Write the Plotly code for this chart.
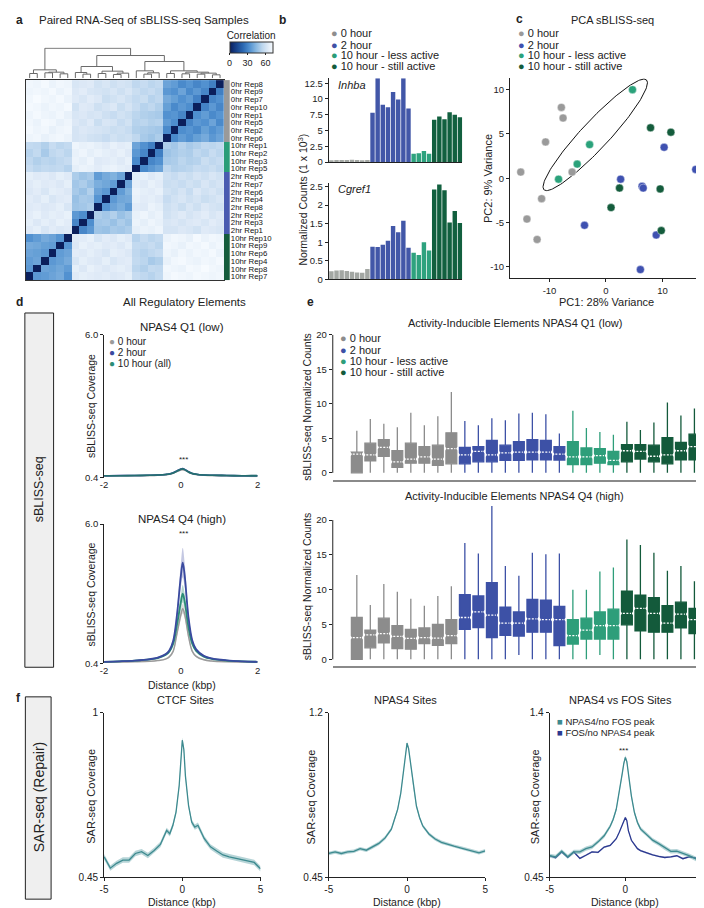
import numpy as np
import plotly.graph_objects as go

W, H = 704, 908
FONT = "Liberation Sans, Arial, Helvetica, sans-serif"
INK = "#222222"

GRAY = "#8e8e8e"
BLUE = "#3f51a5"
LGREEN = "#2a9d78"
DGREEN = "#145c3c"

# ------------------------------------------------------------------ data
# (a) correlation heatmap (rows top->bottom; lower triangle, sample order)
heat_labels = ["0hr Rep8", "0hr Rep9", "0hr Rep7", "0hr Rep10", "0hr Rep1", "0hr Rep5", "0hr Rep2", "0hr Rep6",
               "10hr Rep1", "10hr Rep2", "10hr Rep3", "10hr Rep5",
               "2hr Rep5", "2hr Rep7", "2hr Rep6", "2hr Rep4", "2hr Rep8", "2hr Rep2", "2hr Rep3", "2hr Rep1",
               "10hr Rep10", "10hr Rep9", "10hr Rep6", "10hr Rep4", "10hr Rep8", "10hr Rep7"]
heat_groups = [0, 0, 0, 0, 0, 0, 0, 0, 1, 1, 1, 1, 2, 2, 2, 2, 2, 2, 2, 2, 3, 3, 3, 3, 3, 3]
heat_lower = [
    [0],
    [28, 0],
    [33, 30, 0],
    [30, 35, 29, 0],
    [34, 31, 36, 32, 0],
    [31, 38, 33, 35, 30, 0],
    [36, 33, 37, 31, 34, 32, 0],
    [38, 35, 40, 37, 33, 36, 31, 0],
    [56, 54, 55, 52, 50, 53, 49, 51, 0],
    [54, 57, 53, 55, 51, 52, 50, 48, 28, 0],
    [57, 55, 58, 53, 52, 54, 51, 50, 33, 30, 0],
    [55, 58, 56, 57, 54, 53, 52, 55, 38, 35, 31, 0],
    [60, 62, 59, 61, 58, 60, 57, 59, 66, 64, 67, 65, 0],
    [61, 59, 62, 58, 60, 57, 59, 58, 65, 67, 64, 66, 38, 0],
    [59, 62, 60, 63, 57, 61, 58, 60, 67, 65, 66, 68, 42, 36, 0],
    [62, 60, 58, 61, 59, 62, 60, 57, 64, 66, 65, 67, 40, 39, 35, 0],
    [60, 61, 63, 59, 62, 58, 61, 59, 66, 68, 64, 65, 36, 41, 38, 34, 0],
    [64, 62, 65, 63, 61, 64, 62, 60, 68, 66, 69, 67, 50, 47, 52, 49, 51, 0],
    [63, 65, 62, 64, 63, 61, 63, 62, 67, 69, 66, 68, 48, 51, 47, 50, 49, 32, 0],
    [62, 63, 64, 60, 62, 63, 61, 61, 69, 67, 68, 66, 51, 49, 50, 47, 48, 35, 30, 0],
    [69, 70, 68, 71, 67, 69, 70, 68, 56, 54, 57, 53, 64, 66, 63, 65, 62, 67, 65, 64, 0],
    [70, 68, 71, 69, 70, 67, 69, 70, 54, 57, 55, 56, 66, 63, 65, 64, 66, 65, 67, 63, 34, 0],
    [68, 71, 69, 70, 68, 70, 67, 69, 57, 55, 53, 55, 63, 65, 66, 62, 64, 66, 64, 65, 38, 36, 0],
    [71, 69, 70, 68, 69, 71, 70, 67, 52, 50, 54, 56, 65, 64, 62, 66, 63, 64, 66, 62, 40, 37, 35, 0],
    [69, 70, 72, 70, 71, 68, 69, 70, 55, 56, 52, 54, 64, 66, 65, 63, 65, 67, 63, 66, 36, 39, 37, 38, 0],
    [70, 69, 70, 71, 69, 70, 71, 69, 56, 53, 55, 57, 66, 64, 63, 65, 64, 65, 66, 64, 33, 40, 38, 36, 35, 0],
]
# dendrogram merges over column positions (leaf a, leaf/node b, height)
dendro_merges = [
    (0, 1, 14), (2, 3, 16), (4, 5, 13), (27, 28, 18), (26, 29, 25),
    (7, 8, 12), (6, 31, 17), (9, 10, 14), (11, 12, 11), (34, 13, 15), (33, 35, 21), (32, 36, 35),
    (15, 16, 12), (38, 17, 16), (14, 39, 22),
    (18, 19, 14), (20, 21, 13), (22, 23, 12), (24, 25, 10), (43, 44, 15), (42, 45, 18), (41, 46, 22),
    (40, 47, 50), (37, 48, 68), (30, 49, 90),
]

group_names = ["0 hour", "2 hour", "10 hour - less active", "10 hour - still active"]

# (b) normalized counts (1 x 10^3)
inhba_0h = [0.28, 0.30, 0.30, 0.30, 0.35, 0.30, 0.28, 0.30]
inhba_2h = [7.8, 13.3, 9.1, 8.7, 11.1, 9.9, 13.3, 8.5]
inhba_10l = [1.3, 1.4, 1.75, 1.3]
inhba_10s = [6.7, 7.2, 6.8, 7.9, 7.5, 7.1]
cgref1_0h = [0.22, 0.24, 0.25, 0.23, 0.21, 0.19, 0.18, 0.28]
cgref1_2h = [0.88, 0.87, 0.93, 1.04, 1.44, 1.27, 1.58, 0.85]
cgref1_10l = [0.72, 0.66, 1.0, 0.78]
cgref1_10s = [2.42, 2.55, 2.4, 1.53, 1.84, 1.52]

# (c) PCA
pca_0h_x = [-7.9, -7.6, -10.7, -15.1, -6.0, -11.4, -14.0, -12.2]
pca_0h_y = [8.0, 6.8, 4.1, 0.7, 0.7, -2.3, -4.6, -6.9]
pca_2h_x = [15.9, 10.3, 2.6, 6.4, 6.6, -3.8, 8.9, 6.1]
pca_2h_y = [1.0, 3.5, -0.1, -0.9, -1.1, -5.3, -6.4, -10.3]
pca_10l_x = [4.7, -2.9, -5.1, -8.4]
pca_10l_y = [10.0, 3.8, 1.6, -0.1]
pca_10s_x = [7.9, 11.5, 2.4, 9.6, 0.9, 9.8]
pca_10s_y = [5.7, 5.2, -1.1, -1.2, -3.3, -5.9]
ellipse_center = (-1.9, 4.9)
ellipse_major = (9.07, 6.2)
ellipse_minor = (-1.8, 1.06)

# (d) sBLISS-seq coverage profiles
d_x = [-2, -1.6, -1.2, -0.8, -0.6, -0.4, -0.3, -0.2, -0.1, 0, 0.05, 0.1, 0.2, 0.3, 0.4, 0.6, 0.8, 1.2, 1.6, 2]
q1_gray = [0.47, 0.48, 0.48, 0.49, 0.50, 0.52, 0.54, 0.58, 0.65, 0.71, 0.72, 0.70, 0.62, 0.56, 0.53, 0.50, 0.49, 0.48, 0.47, 0.47]
q1_blue = [0.48, 0.49, 0.49, 0.50, 0.51, 0.53, 0.55, 0.60, 0.67, 0.74, 0.76, 0.73, 0.64, 0.57, 0.54, 0.51, 0.50, 0.49, 0.48, 0.48]
q1_green = [0.48, 0.48, 0.49, 0.50, 0.51, 0.53, 0.55, 0.59, 0.66, 0.73, 0.75, 0.72, 0.63, 0.57, 0.54, 0.51, 0.50, 0.49, 0.48, 0.48]
q1_sem = 0.03
q4_gray = [0.44, 0.45, 0.46, 0.48, 0.51, 0.57, 0.66, 0.88, 1.60, 2.35, 2.60, 2.38, 1.50, 0.88, 0.68, 0.54, 0.49, 0.46, 0.45, 0.44]
q4_blue = [0.46, 0.48, 0.51, 0.57, 0.63, 0.76, 0.92, 1.30, 2.35, 3.90, 4.45, 3.95, 2.25, 1.32, 0.96, 0.70, 0.60, 0.52, 0.48, 0.46]
q4_green = [0.46, 0.48, 0.51, 0.56, 0.61, 0.73, 0.87, 1.18, 1.95, 2.85, 3.20, 2.90, 1.85, 1.18, 0.90, 0.67, 0.58, 0.51, 0.48, 0.46]
q4_gray_sem = [0.01, 0.01, 0.01, 0.02, 0.02, 0.03, 0.04, 0.05, 0.12, 0.18, 0.2, 0.18, 0.12, 0.05, 0.04, 0.02, 0.02, 0.01, 0.01, 0.01]
q4_blue_sem = [0.02, 0.02, 0.02, 0.03, 0.03, 0.04, 0.05, 0.08, 0.25, 0.5, 0.6, 0.5, 0.25, 0.08, 0.05, 0.03, 0.03, 0.02, 0.02, 0.02]
q4_green_sem = [0.02, 0.02, 0.02, 0.03, 0.03, 0.04, 0.05, 0.06, 0.15, 0.3, 0.35, 0.3, 0.15, 0.06, 0.05, 0.03, 0.03, 0.02, 0.02, 0.02]

# (e) box statistics, NPAS4 Q1 (low)
e1_0h_lo = [0, 0, 0, 0, 0, 0, 0, 0]
e1_0h_q1 = [0.0, 1.75, 2.4, 0.8, 1.4, 1.4, 1.1, 1.3]
e1_0h_med = [2.7, 2.6, 3.7, 1.6, 2.0, 2.3, 2.0, 3.5]
e1_0h_q3 = [3.0, 4.3, 4.8, 3.2, 4.3, 3.8, 4.0, 5.8]
e1_0h_hi = [6.1, 7.8, 7.1, 6.6, 8.7, 6.9, 8.2, 11.7]
e1_2h_lo = [0, 0, 0, 0, 0, 0, 0, 0]
e1_2h_q1 = [1.3, 1.6, 1.6, 1.8, 1.8, 1.9, 1.9, 1.85]
e1_2h_med = [2.6, 3.1, 2.6, 2.9, 3.0, 3.0, 3.0, 2.7]
e1_2h_q3 = [3.7, 3.8, 4.7, 4.0, 4.5, 4.8, 4.7, 3.8]
e1_2h_hi = [7.5, 6.9, 7.9, 7.6, 8.6, 8.7, 8.5, 5.7]
e1_10l_lo = [0, 0, 0, 0]
e1_10l_q1 = [1.2, 1.2, 1.4, 1.2]
e1_10l_med = [2.3, 2.3, 2.5, 1.8]
e1_10l_q3 = [4.5, 3.6, 3.5, 3.1]
e1_10l_hi = [9.0, 6.5, 5.9, 5.5]
e1_10s_lo = [0, 0, 0, 0, 0, 0]
e1_10s_q1 = [1.6, 2.0, 1.6, 1.3, 1.9, 1.9]
e1_10s_med = [3.2, 3.1, 2.4, 2.6, 3.2, 3.8]
e1_10s_q3 = [4.1, 4.1, 4.0, 5.1, 4.4, 5.6]
e1_10s_hi = [7.4, 6.2, 7.3, 10.2, 8.3, 9.3]
# (e) box statistics, NPAS4 Q4 (high)
e4_0h_lo = [0, 0, 0, 0, 0, 0, 0, 0]
e4_0h_q1 = [0.0, 1.65, 2.35, 1.55, 1.45, 2.25, 2.0, 2.25]
e4_0h_med = [3.1, 3.5, 3.7, 3.3, 3.0, 3.1, 3.05, 3.4]
e4_0h_q3 = [6.0, 4.2, 5.9, 4.85, 4.3, 4.5, 5.0, 5.7]
e4_0h_hi = [12.1, 7.8, 10.8, 9.7, 8.7, 7.7, 9.1, 10.5]
e4_2h_lo = [0, 0, 0, 0, 0.6, 0, 0, 0]
e4_2h_q1 = [4.3, 4.55, 3.1, 3.45, 3.35, 3.9, 3.9, 1.95]
e4_2h_med = [6.0, 6.8, 6.35, 5.2, 5.2, 5.8, 5.7, 5.7]
e4_2h_q3 = [9.3, 9.1, 11.0, 7.5, 6.8, 8.6, 8.5, 7.6]
e4_2h_hi = [16.7, 15.2, 22.0, 13.4, 12.0, 15.3, 15.1, 15.2]
e4_10l_lo = [0, 0, 0.6, 0]
e4_10l_q1 = [2.2, 2.9, 2.9, 2.9]
e4_10l_med = [3.4, 4.2, 4.85, 4.85]
e4_10l_q3 = [5.7, 5.9, 6.8, 7.2]
e4_10l_hi = [10.0, 10.0, 12.6, 13.2]
e4_10s_lo = [0, 0, 0, 0, 0, 0]
e4_10s_q1 = [4.95, 4.1, 3.9, 3.9, 4.5, 3.7]
e4_10s_med = [6.6, 7.3, 6.6, 5.2, 6.5, 5.7]
e4_10s_q3 = [9.8, 9.2, 8.85, 7.7, 8.2, 7.3]
e4_10s_hi = [17.2, 16.4, 15.3, 12.7, 13.4, 11.2]

# (f) SAR-seq coverage profiles
f_x = [-5, -4.6, -4.2, -3.8, -3.4, -3.0, -2.6, -2.2, -1.8, -1.4, -1.0, -0.8, -0.6, -0.4, -0.2, -0.1, 0,
       0.1, 0.2, 0.4, 0.6, 0.8, 1.0, 1.4, 1.8, 2.2, 2.6, 3.0, 3.4, 3.8, 4.2, 4.6, 5.0]
ctcf_cov = [0.519, 0.481, 0.497, 0.508, 0.508, 0.530, 0.536, 0.523, 0.540, 0.560, 0.607, 0.596, 0.624, 0.668,
            0.756, 0.822, 0.908, 0.877, 0.789, 0.690, 0.635, 0.618, 0.624, 0.580, 0.552, 0.538, 0.525, 0.519,
            0.514, 0.508, 0.505, 0.500, 0.479]
npas4_cov = [0.559, 0.566, 0.559, 0.566, 0.569, 0.581, 0.574, 0.589, 0.605, 0.630, 0.670, 0.715, 0.760, 0.834,
             0.954, 1.013, 1.061, 1.036, 0.983, 0.864, 0.775, 0.723, 0.685, 0.648, 0.625, 0.610, 0.600, 0.592,
             0.585, 0.578, 0.570, 0.562, 0.571]
npas4_nofos_cov = [0.575, 0.569, 0.601, 0.569, 0.597, 0.597, 0.616, 0.626, 0.655, 0.690, 0.745, 0.786, 0.843,
                   0.938, 1.051, 1.108, 1.142, 1.117, 1.051, 0.919, 0.824, 0.767, 0.730, 0.700, 0.665, 0.645,
                   0.620, 0.600, 0.602, 0.590, 0.576, 0.560, 0.541]
fos_nonpas4_cov = [0.575, 0.563, 0.597, 0.565, 0.597, 0.560, 0.578, 0.597, 0.595, 0.625, 0.635, 0.654, 0.673,
                   0.711, 0.749, 0.777, 0.796, 0.777, 0.720, 0.664, 0.639, 0.616, 0.605, 0.592, 0.580, 0.572,
                   0.565, 0.568, 0.575, 0.558, 0.568, 0.563, 0.560]
ctcf_sem = 0.009
npas4_sem = 0.008
npas4_nofos_sem = 0.012
fos_nonpas4_sem = 0.005

# ------------------------------------------------------------------ helpers
def X(p): return p / W
def Y(p): return 1 - p / H
def xd(a, b): return [a / W, b / W]
def yd(top, bottom): return [1 - bottom / H, 1 - top / H]

traces = []
layout = dict(width=W, height=H, autosize=False, margin=dict(l=0, r=0, t=0, b=0),
              paper_bgcolor="white", plot_bgcolor="rgba(0,0,0,0)",
              font=dict(family=FONT, size=10, color=INK), showlegend=False,
              hovermode=False, barmode="overlay", boxmode="overlay",
              annotations=[], shapes=[])

def axpair(n, xdom, ydom, xa=None, ya=None):
    s = "" if n == 1 else str(n)
    base = dict(showgrid=False, zeroline=False, showline=False, ticks="", showticklabels=False,
                linecolor=INK, linewidth=1, tickcolor=INK, ticklen=3, tickwidth=1,
                tickfont=dict(size=9.5, color=INK, family=FONT), fixedrange=True)
    xx = dict(base); xx.update(xa or {}); xx.update(domain=xdom, anchor="y" + s)
    yy = dict(base); yy.update(ya or {}); yy.update(domain=ydom, anchor="x" + s)
    layout["xaxis" + s] = xx
    layout["yaxis" + s] = yy
    return "x" + s, "y" + s

def text(x, y, s, size=10, xanchor="center", yanchor="middle", angle=0, color=INK):
    layout["annotations"].append(dict(x=X(x), y=Y(y), xref="paper", yref="paper", text=s, showarrow=False,
                                      xanchor=xanchor, yanchor=yanchor, textangle=angle,
                                      font=dict(size=size, color=color, family=FONT)))

def legend(x, ys, labels, colors, size=10.5, symbol="●"):
    for y, lab, col in zip(ys, labels, colors):
        text(x, y, f'<span style="color:{col}">{symbol}</span> {lab}', size=size, xanchor="left")

def profile(ax, x, y, sem, line_color, fill_color, width=1.6, shape="linear"):
    sem_l = sem if isinstance(sem, list) else [sem] * len(y)
    up = [v + s for v, s in zip(y, sem_l)]
    lo = [v - s for v, s in zip(y, sem_l)]
    traces.append(go.Scatter(x=x + x[::-1], y=up + lo[::-1], fill="toself", fillcolor=fill_color,
                             line=dict(width=0, shape=shape), mode="lines", xaxis=ax[0], yaxis=ax[1],
                             hoverinfo="skip"))
    traces.append(go.Scatter(x=x, y=y, mode="lines", line=dict(color=line_color, width=width, shape=shape),
                             xaxis=ax[0], yaxis=ax[1]))

GROUP_COLORS = [GRAY, BLUE, LGREEN, DGREEN]

# ------------------------------------------------------------------ (a)
n = len(heat_labels)
D = [[0] * n for _ in range(n)]
for i, row in enumerate(heat_lower):
    for j, v in enumerate(row):
        D[i][j] = v
        D[j][i] = v
zdisp = [[D[i][n - 1 - j] for j in range(n)] for i in range(n)]
blues = [[0, "#0b1f5c"], [0.1, "#14387f"], [0.3, "#2a67b1"], [0.45, "#4f8fcf"], [0.6, "#86b6e0"],
         [0.75, "#bcd6ee"], [0.88, "#dde9f6"], [1, "#f7fbff"]]
ax1 = axpair(1, xd(14, 214), yd(67, 270),
             dict(range=[-0.5, n - 0.5], showline=True, mirror=True, linecolor="#333"),
             dict(range=[n - 0.5, -0.5], showline=True, mirror=True, linecolor="#333"))
traces.append(go.Heatmap(z=zdisp, x=list(range(n)), y=list(range(n)), colorscale=blues, zmin=0, zmax=72,
                         xaxis=ax1[0], yaxis=ax1[1],
                         colorbar=dict(orientation="h", x=X(241.5), xanchor="center", y=Y(17), yanchor="top",
                                       len=43, lenmode="pixels", thickness=11, thicknessmode="pixels",
                                       outlinewidth=1, outlinecolor="#333", tickvals=[0, 30, 60],
                                       ticks="outside", ticklen=2, tickcolor=INK,
                                       tickfont=dict(size=9, color=INK, family=FONT),
                                       title=dict(text="Correlation", side="top",
                                                  font=dict(size=10, color=INK, family=FONT)),
                                       xpad=0, ypad=0)))

# dendrogram
ax2 = axpair(2, xd(14, 214), yd(34, 65), dict(range=[-0.5, n - 0.5]), dict(range=[0, 92]))
node_x = [float(k) for k in range(n)]
node_h = [0.0] * n
dxs, dys = [], []
for a, b, h in dendro_merges:
    xa_, xb_ = node_x[a], node_x[b]
    dxs += [xa_, xa_, xb_, xb_, None]
    dys += [node_h[a], h, h, node_h[b], None]
    node_x.append((xa_ + xb_) / 2)
    node_h.append(h)
traces.append(go.Scatter(x=dxs, y=dys, mode="lines", line=dict(color="#6a6a6a", width=1),
                         xaxis=ax2[0], yaxis=ax2[1]))

# group strip + row labels
ax3 = axpair(3, xd(214, 220), yd(67, 270), dict(range=[-0.5, 0.5]),
             dict(range=[n - 0.5, -0.5], side="right", showticklabels=True, tickvals=list(range(n)),
                  ticktext=heat_labels, ticklen=0, ticklabelstandoff=0,
                  tickfont=dict(size=7.8, color="#111111", family=FONT)))
strip_code = {0: 0, 1: 2, 2: 1, 3: 3}
strip_scale = [[0, "#9a9a9a"], [0.1667, "#9a9a9a"], [0.1667, "#4a5bb0"], [0.5, "#4a5bb0"],
               [0.5, LGREEN], [0.8333, LGREEN], [0.8333, DGREEN], [1, DGREEN]]
traces.append(go.Heatmap(z=[[strip_code[g]] for g in heat_groups], x=[0], y=list(range(n)),
                         colorscale=strip_scale, zmin=0, zmax=3, showscale=False,
                         xaxis=ax3[0], yaxis=ax3[1]))

text(2, 6, "<b>a</b>", size=12, xanchor="left")
text(133, 6, "Paired RNA-Seq of sBLISS-seq Samples", size=11.5)

# ------------------------------------------------------------------ (b)
b_groups_inhba = [inhba_0h, inhba_2h, inhba_10l, inhba_10s]
b_groups_cgref = [cgref1_0h, cgref1_2h, cgref1_10l, cgref1_10s]
yaxis_b = dict(showline=True, ticks="outside", showticklabels=True)
ax4 = axpair(4, xd(320, 455), yd(65, 150), dict(range=[-0.5, 25.5], showline=True),
             dict(yaxis_b, range=[0, 13.3], tickvals=[0, 2.5, 5, 7.5, 10, 12.5],
                  ticktext=["0", "2.5", "5", "7.5", "10", "12.5"]))
ax5 = axpair(5, xd(320, 455), yd(171, 269), dict(range=[-0.5, 25.5], showline=True),
             dict(yaxis_b, range=[0, 2.6], tickvals=[0, 0.5, 1, 1.5, 2, 2.5],
                  ticktext=["0", "0.5", "1", "1.5", "2", "2.5"]))
bar_colors = ["#a3a7a3", "#4257a8", "#2ea27e", "#12603f"]
for ax, groups in ((ax4, b_groups_inhba), (ax5, b_groups_cgref)):
    start = 0
    for vals, col in zip(groups, bar_colors):
        xs = list(range(start, start + len(vals)))
        traces.append(go.Bar(x=xs, y=vals, width=0.86, marker=dict(color=col, line=dict(width=0)),
                             xaxis=ax[0], yaxis=ax[1]))
        start += len(vals)
text(268, 6, "<b>b</b>", size=12, xanchor="left")
legend(320, [19, 31, 42, 53], group_names, GROUP_COLORS, size=11)
text(327, 72, "<i>Inhba</i>", size=11, xanchor="left")
text(327, 177, "<i>Cgref1</i>", size=11, xanchor="left")
text(293, 188, "Normalized Counts (1 x 10<sup>3</sup>)", size=10.5, angle=-90)

# ------------------------------------------------------------------ (c)
ax6 = axpair(6, xd(503, 698), yd(65, 268),
             dict(range=[-17, 17.2], showline=True, ticks="outside", showticklabels=True,
                  tickvals=[-10, 0, 10], ticktext=["-10", "0", "10"]),
             dict(range=[-11.3, 11.3], showline=True, ticks="outside", showticklabels=True,
                  tickvals=[-10, -5, 0, 5, 10], ticktext=["-10", "-5", "0", "5", "10"]))
t = np.linspace(0, 2 * np.pi, 160)
ex = ellipse_center[0] + ellipse_major[0] * np.cos(t) + ellipse_minor[0] * np.sin(t)
ey = ellipse_center[1] + ellipse_major[1] * np.cos(t) + ellipse_minor[1] * np.sin(t)
traces.append(go.Scatter(x=ex, y=ey, mode="lines", line=dict(color="#111", width=1),
                         xaxis=ax6[0], yaxis=ax6[1]))
pca_cols = ["#9a9a9a", "#3f51b0", "#2ba27b", "#145c3c"]
for px_, py_, col in ((pca_0h_x, pca_0h_y, pca_cols[0]), (pca_2h_x, pca_2h_y, pca_cols[1]),
                      (pca_10l_x, pca_10l_y, pca_cols[2]), (pca_10s_x, pca_10s_y, pca_cols[3])):
    traces.append(go.Scatter(x=px_, y=py_, mode="markers",
                             marker=dict(color=col, size=8, line=dict(width=0.6, color="rgba(255,255,255,0.7)")),
                             xaxis=ax6[0], yaxis=ax6[1]))
text(507, 5, "<b>c</b>", size=12, xanchor="left")
text(607, 6, "PCA sBLISS-seq", size=11)
legend(509, [19, 31, 42, 53], group_names, pca_cols, size=11)
text(600, 292, "PC1: 28% Variance", size=11)
text(481, 167, "PC2: 9% Variance", size=11, angle=-90)

# ------------------------------------------------------------------ (d)
d_xaxis = dict(range=[-2, 2], showticklabels=True, tickvals=[-2, 0, 2], ticktext=["-2", "0", "2"])
d_yaxis = dict(range=[0.4, 6.0], showline=True, ticks="outside", showticklabels=True,
               tickvals=[0.4, 6.0], ticktext=["0.4", "6.0"])
ax7 = axpair(7, xd(93, 248), yd(325, 470), d_xaxis, d_yaxis)
ax8 = axpair(8, xd(93, 248), yd(517, 658), d_xaxis, d_yaxis)
D_GRAY, D_BLUE, D_GREEN = "#9b9b9b", "#3a4a9f", "#2b8c76"
profile(ax7, d_x, q1_gray, q1_sem, D_GRAY, "rgba(155,155,155,0.35)", 1.6, "spline")
profile(ax7, d_x, q1_blue, q1_sem, D_BLUE, "rgba(58,74,159,0.3)", 1.6, "spline")
profile(ax7, d_x, q1_green, q1_sem, "#246f70", "rgba(43,140,118,0.35)", 1.6, "spline")
profile(ax8, d_x, q4_gray, q4_gray_sem, D_GRAY, "rgba(155,155,155,0.35)", 1.5, "spline")
profile(ax8, d_x, q4_green, q4_green_sem, D_GREEN, "rgba(43,140,118,0.35)", 1.8, "spline")
profile(ax8, d_x, q4_blue, q4_blue_sem, D_BLUE, "rgba(58,74,159,0.3)", 1.8, "spline")
layout["shapes"].append(dict(type="rect", xref="paper", yref="paper", x0=X(13), x1=X(42), y0=Y(662), y1=Y(303),
                             fillcolor="#efefef", line=dict(color="#222", width=1), layer="below"))
text(27, 482, "sBLISS-seq", size=12.5, angle=-90)
text(2, 292, "<b>d</b>", size=12, xanchor="left")
text(174, 292, "All Regulatory Elements", size=11.5)
text(172, 317, "NPAS4 Q1 (low)", size=11.5)
text(172, 512, "NPAS4 Q4 (high)", size=11.5)
legend(96, [332, 343, 354], ["0 hour", "2 hour", "10 hour (all)"], [D_GRAY, D_BLUE, D_GREEN], size=10)
text(173, 451, "***", size=8)
text(173, 526, "***", size=8)
text(80, 397, "sBLISS-seq Coverage", size=10.5, angle=-90)
text(80, 588, "sBLISS-seq Coverage", size=10.5, angle=-90)
text(172, 680, "Distance (kbp)", size=10.5)

# ------------------------------------------------------------------ (e)
e_xaxis = dict(range=[-1.78, 25.42], showline=True, linecolor="#8a8a8a", linewidth=2)
e_y = dict(ticks="outside", showticklabels=True, tickvals=[0, 5, 10, 15, 20])
ax9 = axpair(9, xd(324, 695), yd(325, 472), e_xaxis, dict(e_y, range=[-1, 20]))
ax10 = axpair(10, xd(324, 695), yd(498, 661), e_xaxis, dict(e_y, range=[-1, 22.1]))
box_cols = ["#8c8c8c", "#3d51a6", "#2e9e7a", "#135a3b"]
e1_sets = [(e1_0h_lo, e1_0h_q1, e1_0h_med, e1_0h_q3, e1_0h_hi),
           (e1_2h_lo, e1_2h_q1, e1_2h_med, e1_2h_q3, e1_2h_hi),
           (e1_10l_lo, e1_10l_q1, e1_10l_med, e1_10l_q3, e1_10l_hi),
           (e1_10s_lo, e1_10s_q1, e1_10s_med, e1_10s_q3, e1_10s_hi)]
e4_sets = [(e4_0h_lo, e4_0h_q1, e4_0h_med, e4_0h_q3, e4_0h_hi),
           (e4_2h_lo, e4_2h_q1, e4_2h_med, e4_2h_q3, e4_2h_hi),
           (e4_10l_lo, e4_10l_q1, e4_10l_med, e4_10l_q3, e4_10l_hi),
           (e4_10s_lo, e4_10s_q1, e4_10s_med, e4_10s_q3, e4_10s_hi)]
NOTCH = 0.3
for ax, sets in ((ax9, e1_sets), (ax10, e4_sets)):
    start = 0
    for (lo, q1, med, q3, hi), col in zip(sets, box_cols):
        pos = list(range(start, start + len(med)))
        traces.append(go.Box(x=pos, lowerfence=lo, q1=q1, median=med, q3=q3, upperfence=hi,
                             notched=True, notchspan=[NOTCH] * len(pos), notchwidth=0.12,
                             fillcolor=col, line=dict(color=col, width=1.3), whiskerwidth=0,
                             width=0.8, boxpoints=False, xaxis=ax[0], yaxis=ax[1]))
        mx, my = [], []
        for p, m in zip(pos, med):
            mx += [p - 0.3, p + 0.3, None]
            my += [m, m, None]
        traces.append(go.Scatter(x=mx, y=my, mode="lines",
                                 line=dict(color="white", width=1.3, dash="2px,1.5px"),
                                 xaxis=ax[0], yaxis=ax[1]))
        start += len(med)
    layout["shapes"].append(dict(type="line", xref=ax[0] + " domain", yref=ax[1], x0=0, x1=0, y0=0, y1=20,
                                 line=dict(color=INK, width=1)))
text(296, 292, "<b>e</b>", size=12, xanchor="left")
text(508, 313, "Activity-Inducible Elements NPAS4 Q1 (low)", size=11)
text(508, 488, "Activity-Inducible Elements NPAS4 Q4 (high)", size=11)
legend(329, [328, 340, 352, 363], group_names, box_cols, size=11)
text(298, 398, "sBLISS-seq Normalized Counts", size=10.5, angle=-90)
text(298, 580, "sBLISS-seq Normalized Counts", size=10.5, angle=-90)

# ------------------------------------------------------------------ (f)
f_xaxis = dict(range=[-5, 5], showline=True, ticks="outside", showticklabels=True,
               tickvals=[-5, 0, 5], ticktext=["-5", "0", "5"], tickfont=dict(size=10, color=INK, family=FONT))
def f_yaxis(top, toplab):
    return dict(range=[0.45, top], showline=True, ticks="outside", showticklabels=True,
                tickvals=[0.45, top], ticktext=["0.45", toplab], tickfont=dict(size=10, color=INK, family=FONT))
ax11 = axpair(11, xd(93, 251), yd(708, 875), f_xaxis, f_yaxis(1.0, "1"))
ax12 = axpair(12, xd(320, 478), yd(708, 875), f_xaxis, f_yaxis(1.2, "1.2"))
ax13 = axpair(13, xd(543, 696), yd(708, 875), f_xaxis, f_yaxis(1.4, "1.4"))
TEAL, TEAL_FILL = "#3d8a8f", "rgba(110,170,175,0.5)"
FOSB = "#2b3990"
profile(ax11, f_x, ctcf_cov, ctcf_sem, TEAL, TEAL_FILL, 1.3)
profile(ax12, f_x, npas4_cov, npas4_sem, TEAL, TEAL_FILL, 1.3)
profile(ax13, f_x, fos_nonpas4_cov, fos_nonpas4_sem, FOSB, "rgba(43,57,144,0.3)", 1.3)
profile(ax13, f_x, npas4_nofos_cov, npas4_nofos_sem, TEAL, TEAL_FILL, 1.3)
layout["shapes"].append(dict(type="rect", xref="paper", yref="paper", x0=X(13.5), x1=X(39.5), y0=Y(897), y1=Y(692),
                             fillcolor="#efefef", line=dict(color="#222", width=1), layer="below"))
text(27, 794, "SAR-seq (Repair)", size=14, angle=-90)
text(2, 693, "<b>f</b>", size=12, xanchor="left")
text(175, 695, "CTCF Sites", size=11)
text(397, 695, "NPAS4 Sites", size=11)
text(615, 695, "NPAS4 vs FOS Sites", size=11)
for xl in (79, 302, 528):
    text(xl, 793, "SAR-seq Coverage", size=11, angle=-90)
for xc in (172, 399, 619):
    text(xc, 900, "Distance (kbp)", size=10.5)
legend(548, [717, 728], ["NPAS4/no FOS peak", "FOS/no NPAS4 peak"], [TEAL, FOSB], size=9.5, symbol="■")
text(618, 746, "***", size=8)

fig = go.Figure(data=traces, layout=layout)
fig.write_html("out.html")
